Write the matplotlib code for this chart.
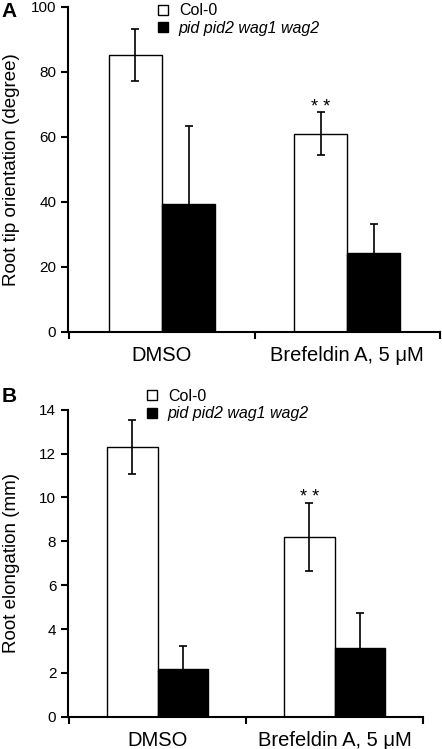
import numpy as np
import matplotlib
matplotlib.use("Agg")
import matplotlib.pyplot as plt
from matplotlib.patches import Patch

plt.rcParams["font.family"] = ["Liberation Sans", "DejaVu Sans"]

treatments = ["DMSO", "Brefeldin A, 5 \u03bcM"]
genotypes = ["Col-0", "pid pid2 wag1 wag2"]

orient_col = [85.2, 61.0]
orient_col_err = [8.0, 6.5]
orient_mut = [39.3, 24.3]
orient_mut_err = [24.0, 9.0]

elong_col = [12.3, 8.2]
elong_col_err = [1.25, 1.55]
elong_mut = [2.2, 3.15]
elong_mut_err = [1.05, 1.57]


def draw_panel(ax, col, col_err, mut, mut_err, ylabel, ymax, ystep, star_y, label_x):
    x = np.arange(len(treatments))
    w = 0.287
    ax.bar(x - w / 2, col, w, color="white", edgecolor="black", linewidth=1.0)
    ax.bar(x + w / 2, mut, w, color="black", edgecolor="black", linewidth=1.0)
    ekw = dict(fmt="none", ecolor="black", elinewidth=1.2, capsize=3.2, capthick=1.2)
    ax.errorbar(x - w / 2, col, yerr=col_err, **ekw)
    ax.errorbar(x + w / 2, mut, yerr=mut_err, **ekw)
    ax.text(1 - w / 2, star_y, "* *", ha="center", va="center", fontsize=13)

    ax.set_xlim(-0.507, 1.5)
    ax.set_ylim(0, ymax)
    ax.set_yticks(np.arange(0, ymax + 0.1, ystep))
    ax.set_xticks(x)
    ax.set_xticklabels(treatments, fontsize=14.5)
    ax.set_xticks([-0.5, 0.5, 1.5], minor=True)
    ax.tick_params(axis="x", which="major", length=0, pad=10)
    ax.tick_params(axis="x", which="minor", length=5, width=1.5, direction="out")
    ax.tick_params(axis="y", length=5, width=1.5, labelsize=11, direction="out")
    ax.set_ylabel(ylabel, fontsize=13.5)
    ax.yaxis.set_label_coords(label_x, 0.5)
    for s in ["top", "right"]:
        ax.spines[s].set_visible(False)
    for s in ["left", "bottom"]:
        ax.spines[s].set_linewidth(1.5)


fig = plt.figure(figsize=(4.42, 7.49), dpi=100)

axA = fig.add_axes([0.154, 0.557, 0.841, 0.434])
draw_panel(axA, orient_col, orient_col_err, orient_mut, orient_mut_err,
           "Root tip orientation (degree)", 100, 20, 69, -0.129)

axB = fig.add_axes([0.154, 0.043, 0.803, 0.410])
draw_panel(axB, elong_col, elong_col_err, elong_mut, elong_mut_err,
           "Root elongation (mm)", 14, 2, 10.0, -0.135)

handles = [Patch(facecolor="white", edgecolor="black", linewidth=1.0),
           Patch(facecolor="black", edgecolor="black", linewidth=1.0)]

for anchor in [(0.3575, 0.9956), (0.3326, 0.4807)]:
    leg = fig.legend(handles, genotypes, loc="upper left", bbox_to_anchor=anchor,
                     frameon=False, fontsize=11.5, handlelength=0.6, handleheight=0.6,
                     handletextpad=0.7, labelspacing=0.15, borderpad=0, borderaxespad=0)
    leg.get_texts()[1].set_style("italic")

fig.text(0.004, 0.985, "A", fontsize=15, fontweight="bold", va="center")
fig.text(0.004, 0.470, "B", fontsize=15, fontweight="bold", va="center")

fig.savefig("out.png", dpi=100)
